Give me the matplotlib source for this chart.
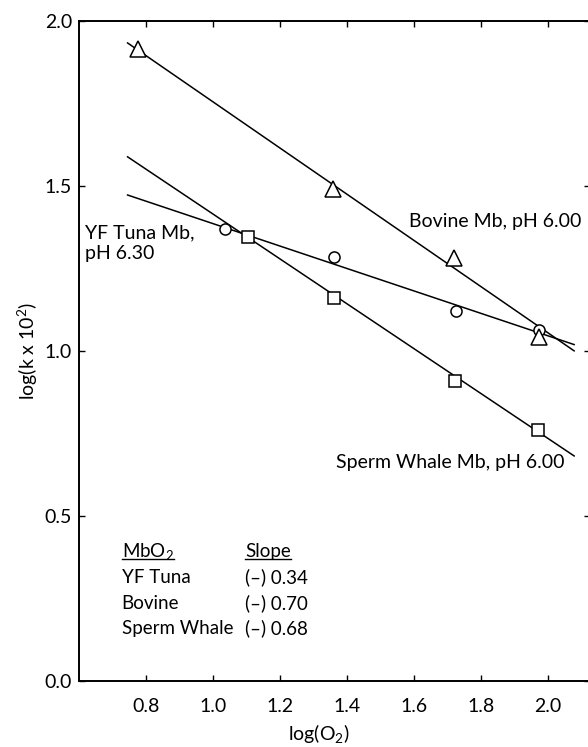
import matplotlib.pyplot as plt
from matplotlib.lines import Line2D

plt.rcParams['font.family'] = ['Lato', 'DejaVu Sans']
plt.rcParams['mathtext.default'] = 'regular'

# measured points, log(O2) vs log(k x 10^2)
tuna_x = [1.036, 1.361, 1.725, 1.973]
tuna_y = [1.370, 1.285, 1.121, 1.064]
bovine_x = [0.775, 1.358, 1.718, 1.973]
bovine_y = [1.916, 1.491, 1.281, 1.042]
whale_x = [1.104, 1.361, 1.722, 1.970]
whale_y = [1.345, 1.161, 0.909, 0.761]

# fitted lines (slope is negative)
names = ['YF Tuna', 'Bovine', 'Sperm Whale']
slopes = [0.34, 0.70, 0.68]
intercepts = [1.726, 2.455, 2.095]
fit_x = [0.745, 2.078]

xticks = [0.8, 1.0, 1.2, 1.4, 1.6, 1.8, 2.0]
yticks = [0.0, 0.5, 1.0, 1.5, 2.0]

fs = 14

fig = plt.figure(figsize=(5.88, 7.47), dpi=100)
ax = fig.add_axes([79/588, 66/747, 511/588, 660/747])

for s, b in zip(slopes, intercepts):
    ax.plot(fit_x, [b - s*x for x in fit_x], color='black', lw=1.1, zorder=2)

mk = dict(linestyle='none', mfc='white', mec='black', mew=1.1, zorder=3)
ax.plot(tuna_x, tuna_y, marker='o', ms=8, **mk)
ax.plot(whale_x, whale_y, marker='s', ms=9, **mk)
ax.plot(bovine_x, bovine_y, marker='^', ms=12, **mk)

ax.set_xlim(0.6, 0.6 + 511/335)
ax.set_ylim(0, 2.0)
ax.set_xticks(xticks)
ax.set_yticks(yticks)
ax.set_xticklabels(['%.1f' % v for v in xticks])
ax.set_yticklabels(['%.1f' % v for v in yticks])
ax.tick_params(direction='in', length=4, width=1, top=True, right=True, labelsize=fs)
ax.tick_params(axis='x', pad=12)
ax.tick_params(axis='y', pad=5)
for sp in ax.spines.values():
    sp.set_linewidth(1.4)

ax.set_xlabel('log(O$_2$)', fontsize=fs, va='center')
ax.xaxis.set_label_coords(0.47, -0.079)
ax.set_ylabel('log(k x 10$^2$)', fontsize=fs, va='center')
ax.yaxis.set_label_coords(-0.1, 0.5)

# curve labels
ax.text(0.618, 1.327, 'YF Tuna Mb,\npH 6.30', fontsize=fs, ha='left', va='center', linespacing=1.25)
ax.text(2.101, 1.392, 'Bovine Mb, pH 6.00', fontsize=fs, ha='right', va='center')
ax.text(2.048, 0.661, 'Sperm Whale Mb, pH 6.00', fontsize=fs, ha='right', va='center')

# slope table
tfs = 13.5
col1, col2 = 0.727, 1.097
head_y = 0.377
t1 = ax.text(col1, head_y, 'MbO$_2$', fontsize=tfs, va='baseline')
t2 = ax.text(col2, head_y, 'Slope', fontsize=tfs, va='baseline')
for i, (n, s) in enumerate(zip(names, slopes)):
    y = head_y - 0.081 - i*0.0775
    ax.text(col1, y, n, fontsize=tfs, va='baseline')
    ax.text(col2, y, '(–) %.2f' % s, fontsize=tfs, va='baseline')

# underline the headings
fig.canvas.draw()
inv = fig.transFigure.inverted()
for t in (t1, t2):
    bb = t.get_window_extent()
    base = ax.transData.transform((0, head_y))[1] - 2
    p0 = inv.transform((bb.x0, base))
    p1 = inv.transform((bb.x1, base))
    fig.add_artist(Line2D([p0[0], p1[0]], [p0[1], p1[1]], color='black', lw=1))

fig.savefig('out.png', dpi=100)
